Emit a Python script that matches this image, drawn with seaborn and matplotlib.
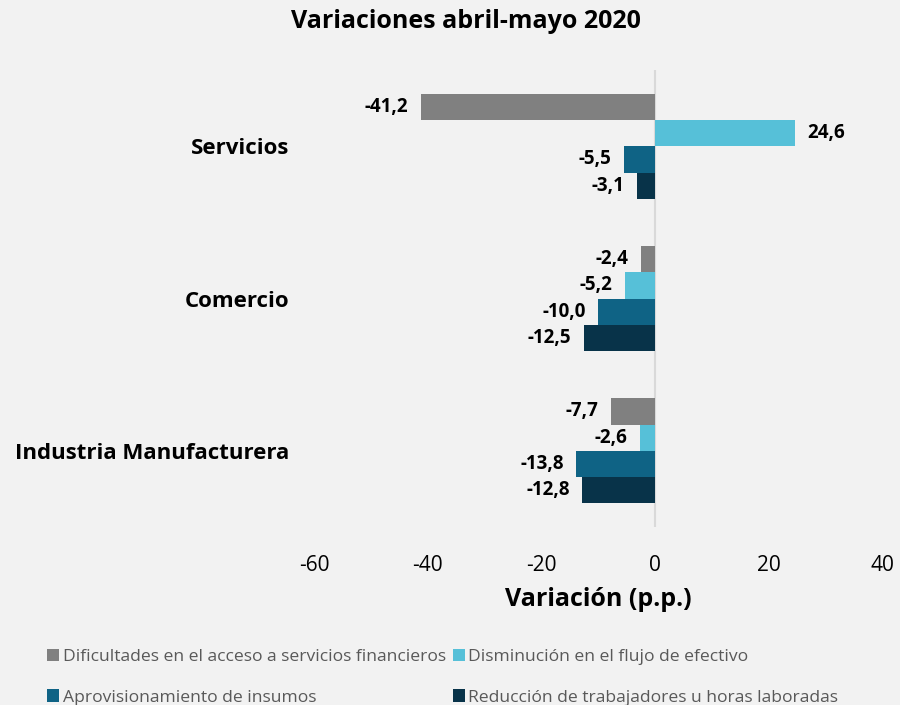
import pandas as pd
import seaborn as sns
import matplotlib.pyplot as plt

# Datos
sectores = ['Servicios', 'Comercio', 'Industria Manufacturera']
series = [
    'Dificultades en el acceso a servicios financieros',
    'Disminución en el flujo de efectivo',
    'Aprovisionamiento de insumos',
    'Reducción de trabajadores u horas laboradas',
]
financieros = [-41.2, -2.4, -7.7]
efectivo = [24.6, -5.2, -2.6]
insumos = [-5.5, -10.0, -13.8]
trabajadores = [-3.1, -12.5, -12.8]

colores = ['#808080', '#56C0D8', '#0F6385', '#083349']

rows = []
for serie, vals in zip(series, [financieros, efectivo, insumos, trabajadores]):
    for sector, v in zip(sectores, vals):
        rows.append({'sector': sector, 'serie': serie, 'valor': v})
df = pd.DataFrame(rows)

sns.set_theme(style='white', rc={'figure.facecolor': '#f2f2f2', 'axes.facecolor': '#f2f2f2',
                                 'text.color': 'black', 'xtick.color': 'black', 'ytick.color': 'black',
                                 'axes.labelcolor': 'black'})
plt.rcParams['font.family'] = ['Open Sans', 'DejaVu Sans']
plt.rcParams['axes.unicode_minus'] = False

fig = plt.figure(figsize=(9, 7.05), dpi=100)
ax = fig.add_axes([0.349, 0.2525, 0.631, 0.648])

sns.barplot(data=df, y='sector', x='valor', hue='serie', order=sectores, hue_order=series,
            palette=colores, orient='h', width=0.69, saturation=1, linewidth=0, ax=ax, legend=True)

for cont in ax.containers:
    labs = [f'{b.get_width():.1f}'.replace('.', ',') for b in cont]
    ax.bar_label(cont, labels=labs, padding=9, fontsize=13.5, fontweight='bold', color='black')

ax.axvline(0, color='#d9d9d9', lw=1.5, zorder=0)
ax.set_xlim(-60, 40)
ax.set_xticks([-60, -40, -20, 0, 20, 40])
ax.set_ylim(2.5, -0.5)
for s in ax.spines.values():
    s.set_visible(False)
ax.tick_params(axis='x', length=0, pad=20, labelsize=15)
ax.tick_params(axis='y', length=0, pad=18)
for t in ax.get_yticklabels():
    t.set_fontsize(16)
    t.set_fontweight('bold')
ax.set_ylabel('')
ax.set_xlabel('Variación (p.p.)', fontsize=18, fontweight='bold', labelpad=8)

fig.text(466 / 900, 1 - 22 / 705, 'Variaciones abril-mayo 2020', ha='center', va='center',
         fontsize=18, fontweight='bold')

ax.get_legend().remove()
handles, labels = ax.get_legend_handles_labels()
idx = [0, 2, 1, 3]  # fila por fila
fig.legend([handles[i] for i in idx], [labels[i] for i in idx], ncol=2, loc='upper left',
           bbox_to_anchor=(0.052, 0.08), frameon=False, fontsize=12.6, labelcolor='#595959',
           handlelength=0.7, handleheight=0.7, handletextpad=0.2, columnspacing=0.4,
           labelspacing=1.4, borderaxespad=0, borderpad=0)

plt.savefig('out.png', dpi=100, facecolor=fig.get_facecolor())
